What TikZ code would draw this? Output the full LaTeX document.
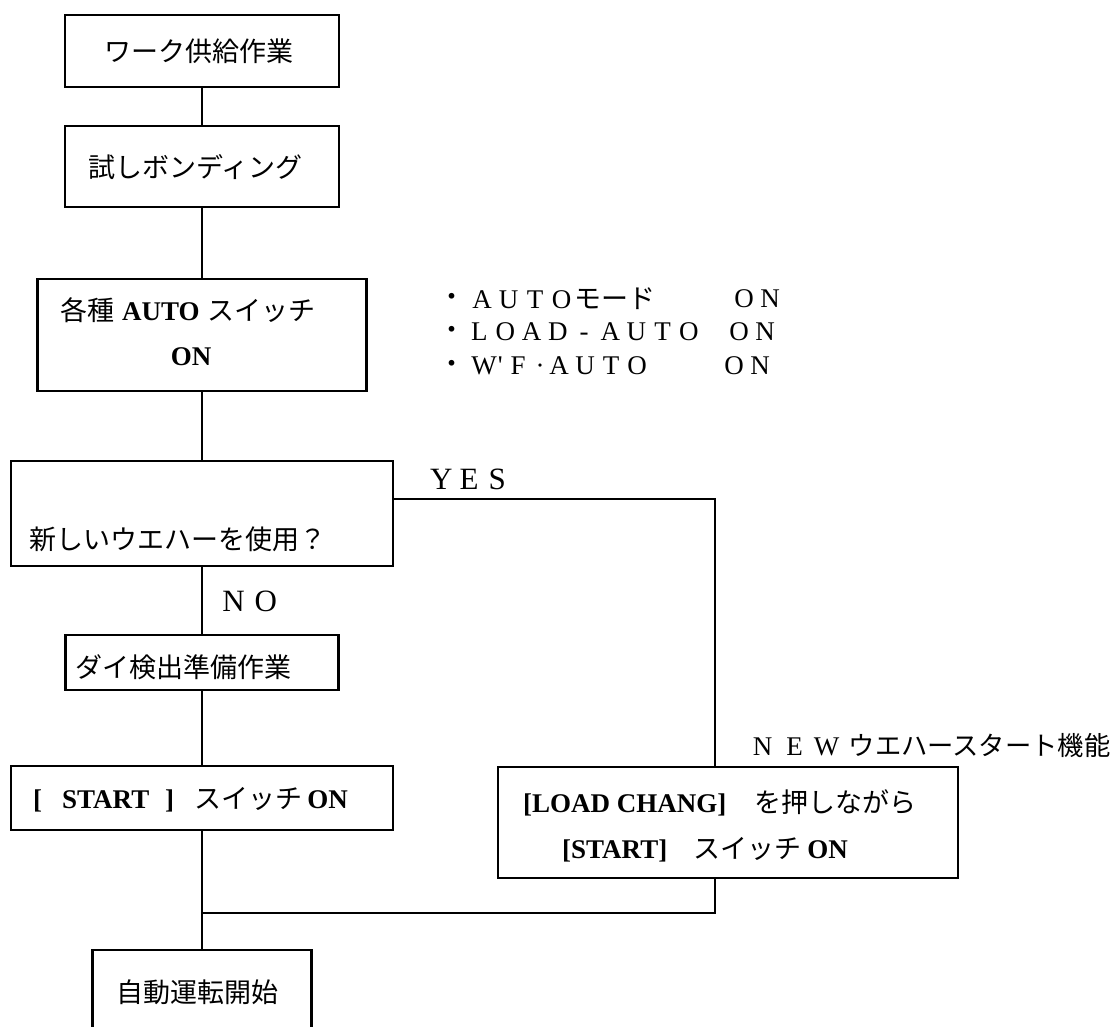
\documentclass[tikz,border=0pt]{standalone}
\usepackage{fontspec}
\setmainfont{Liberation Serif}
\newfontfamily\jp{Noto Sans CJK JP}
\newcommand\J[1]{{\jp #1}}
\makeatletter
\newcommand\spreadtxt[2]{\@tfor\sp@ch:=#2\do{\makebox[#1][c]{\sp@ch}}}
\makeatother
\begin{document}
\begin{tikzpicture}[x=1pt,y=-1pt,
  box/.style={draw, line width=2.6pt, inner sep=0pt},
  conn/.style={line width=2.6pt, line join=miter},
  txt/.style={inner sep=0pt, font=\fontsize{27}{32}\selectfont},
  lab/.style={inner sep=0pt, font=\fontsize{27}{32}\selectfont},
  biglab/.style={inner sep=0pt, font=\fontsize{31}{36}\selectfont}]
\path[clip] (0,0) rectangle (1117,1026);
\fill[white] (0,0) rectangle (1117,1026);
% boxes
\node[box, minimum width=274pt, minimum height=72pt]  (b1) at (202,51) {};
\node[box, minimum width=274pt, minimum height=81pt]  (b2) at (202,166.5) {};
\node[box, minimum width=329pt, minimum height=112pt] (b3) at (202,335) {};
\node[box, minimum width=382pt, minimum height=105pt] (b4) at (202,513.5) {};
\node[box, minimum width=273pt, minimum height=55pt]  (b5) at (202,662.5) {};
\node[box, minimum width=382pt, minimum height=64pt]  (b6) at (202,798) {};
\node[box, minimum width=460pt, minimum height=111pt] (b7) at (728,822.5) {};
\node[box, minimum width=219pt, minimum height=140pt] (b8) at (202,1020) {};
% texts in boxes
\node[txt] (t1) at (199,51) {\J{ワーク供給作業}};
\node[txt, anchor=west] (t2) at (88,167.5) {\J{試しボンディング}};
\node[txt, anchor=west] (t3a) at (60,310) {\J{各種}\hspace{8pt}\textbf{AUTO}\hspace{8pt}\J{スイッチ}};
\node[txt] (t3b) at (191,357) {\textbf{ON}};
\node[txt] (t4) at (178.5,539) {\J{新しいウエハーを使用？}};
\node[txt] (t5) at (183,667) {\J{ダイ検出準備作業}};
\node[txt, anchor=west] (t6) at (33,800) {\textbf{[}\hspace{20pt}\textbf{START}\hspace{16pt}\textbf{]}\hspace{20pt}\J{スイッチ}\hspace{5pt}\textbf{ON}};
\node[txt, anchor=west] (t7a) at (523,803) {\textbf{[LOAD CHANG]}\hspace{28pt}\J{を押しながら}};
\node[txt, anchor=west] (t7b) at (562,850) {\textbf{[START]}\hspace{26pt}\J{スイッチ}\hspace{6pt}\textbf{ON}};
\node[txt] (t8) at (197,992) {\J{自動運転開始}};
% side list
\node[lab] (d1) at (452,300) {\J{・}};
\node[lab] (d2) at (452,333) {\J{・}};
\node[lab] (d3) at (452,367) {\J{・}};
\node[lab, anchor=west] (l1) at (468.75,299) {\spreadtxt{26.5pt}{AUTO}\J{モード}};
\node[lab, anchor=west] (l2) at (466,332) {\spreadtxt{26.2pt}{LOAD-AUTO}};
\node[lab, anchor=west] (l3) at (470,366) {\makebox[28pt]{W}\makebox[4pt]{\textquotesingle}\makebox[32pt]{F}\makebox[12pt]{·}\spreadtxt{26pt}{AUTO}};
\node[lab, anchor=west] (o1) at (731,299) {\spreadtxt{26pt}{ON}};
\node[lab, anchor=west] (o2) at (726,332) {\spreadtxt{26pt}{ON}};
\node[lab, anchor=west] (o3) at (721,366) {\spreadtxt{26pt}{ON}};
% branch labels
\node[biglab, anchor=west] (yes) at (427,479) {\spreadtxt{28pt}{YES}};
\node[biglab, anchor=west] (no) at (217,601) {\spreadtxt{32.5pt}{NO}};
\node[lab, anchor=west] (new) at (746.5,746) {\spreadtxt{32pt}{NEW}\hspace{6pt}{\fontsize{26.3}{30}\selectfont\J{ウエハースタート機能}}};
% routing points
\coordinate (ycor) at (715,499);
\coordinate (mrg) at (202,913);
% connectors
\draw[conn] (b1) -- (b2);
\draw[conn] (b2) -- (b3);
\draw[conn] (b3) -- (b4);
\draw[conn] (b4) -- (b5);
\draw[conn] (b5) -- (b6);
\draw[conn] (b6) -- (b8);
\draw[conn] (b4.east |- ycor) -- (ycor) -- (ycor |- b7.north);
\draw[conn] (b7.south -| ycor) -- (ycor |- mrg) -- (mrg);
\end{tikzpicture}
\end{document}
